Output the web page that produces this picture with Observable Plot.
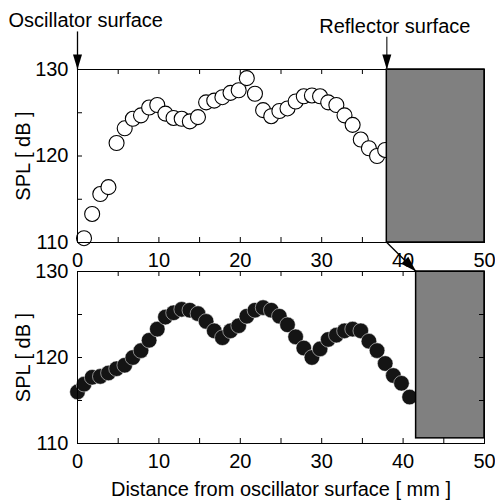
<!DOCTYPE html>
<html><head><meta charset="utf-8">
<script src="https://cdn.jsdelivr.net/npm/d3@7"></script>
<script src="https://cdn.jsdelivr.net/npm/@observablehq/plot@0.6"></script>
<style>
html,body{margin:0;padding:0;background:#fff;}
#chart{position:relative;width:495px;height:500px;overflow:hidden;}
#chart svg{position:absolute;left:0;top:0;}
</style></head><body><div id="chart"></div>
<script>
// ---- data ----
const xDomain = [0, 50];
const yDomain = [110, 130];
const xTicks = [0, 5, 10, 15, 20, 25, 30, 35, 40, 45, 50];
const xTickLabels = [0, 10, 20, 30, 40, 50];
const yTicks = [110, 115, 120, 125, 130];
const yTickLabels = [110, 120, 130];

const topX = [0.8,1.8,2.8,3.8,4.8,5.8,6.8,7.8,8.8,9.8,10.8,11.8,12.8,13.8,14.8,15.8,16.8,17.8,18.8,19.8,20.8,21.8,22.8,23.8,24.8,25.8,26.8,27.8,28.8,29.8,30.8,31.8,32.8,33.8,34.8,35.8,36.8,37.8];
const topSPL = [110.5,113.3,115.6,116.4,121.5,123.2,124.3,124.7,125.6,125.9,124.9,124.4,124.3,124.0,124.5,126.2,126.4,126.8,127.3,127.6,129.0,127.2,125.3,124.6,125.2,125.5,126.3,126.9,127.0,126.9,126.2,125.9,124.7,123.6,121.9,120.9,120.0,120.7];

const bottomX = [0,0.8,1.8,2.8,3.8,4.8,5.8,6.8,7.8,8.8,9.8,10.8,11.8,12.8,13.8,14.8,15.8,16.8,17.8,18.8,19.8,20.8,21.8,22.8,23.8,24.8,25.8,26.8,27.8,28.8,29.8,30.8,31.8,32.8,33.8,34.8,35.8,36.8,37.8,38.8,39.8,40.8];
const bottomSPL = [116.0,116.9,117.7,117.8,118.2,118.7,119.1,120.0,120.8,122.0,123.3,124.7,125.2,125.6,125.5,125.1,124.2,123.1,122.3,123.1,123.7,124.8,125.5,125.8,125.5,124.8,123.8,122.4,121.1,120.0,121.0,122.1,122.6,123.1,123.3,123.1,121.9,120.8,119.3,117.9,117.0,115.4];

// reflector positions [mm] and block extents [dB]
const reflectorTop = [{x1: 38, x2: 50, y1: 110, y2: 130}];
const reflectorBottom = [{x1: 41.6, x2: 50, y1: 110.6, y2: 130}];

// annotation texts
const oscLabel = "Oscillator surface";
const refLabel = "Reflector surface";
const yLabel = "SPL [ dB ]";
const xLabel = "Distance from oscillator surface [ mm ]";
// annotation arrow start levels (dB, above the panel)
const oscArrowStart = 134.4;
const refArrowStart = 133.8;

// ---- layout ----
const W = 495, H = 500;
const ML = 77, MR = 11;
const topM = {top: 69, bottom: 258};
const botM = {top: 271, bottom: 57};
const frameW = W - ML - MR;
const topFrameH = H - topM.top - topM.bottom;
const botFrameH = H - botM.top - botM.bottom;
const FONT = "'Liberation Sans', Arial, Helvetica, sans-serif";
const TICK = 5;

const topData = topX.map((x, i) => ({x, spl: topSPL[i]}));
const bottomData = bottomX.map((x, i) => ({x, spl: bottomSPL[i]}));

// scales mirroring the plots (for the cross-panel arrow)
const xPix = d3.scaleLinear(xDomain, [ML, W - MR]);
const topYPix = d3.scaleLinear(yDomain, [H - topM.bottom, topM.top]);
const botYPix = d3.scaleLinear(yDomain, [H - botM.bottom, botM.top]);
const crossY = topYPix.invert(botYPix(reflectorBottom[0].y2));
const crossArrow = [{x1: reflectorTop[0].x1, y1: reflectorTop[0].y1, x2: reflectorBottom[0].x1, y2: crossY}];

function arrowHead(dx, dy, len, half) {
  const L = Math.hypot(dx, dy), ux = dx / L, uy = dy / L, px = -uy, py = ux;
  return {draw(ctx) {
    ctx.moveTo(0, 0);
    ctx.lineTo(-ux * len + px * half, -uy * len + py * half);
    ctx.lineTo(-ux * len - px * half, -uy * len - py * half);
    ctx.closePath();
  }};
}
const downHead = arrowHead(0, 1, 15, 4.5);
const crossHead = arrowHead(
  xPix(crossArrow[0].x2) - xPix(crossArrow[0].x1),
  topYPix(crossArrow[0].y2) - topYPix(crossArrow[0].y1), 16, 5);

const baseStyle = {fontFamily: FONT, fontSize: "20px", background: "transparent", overflow: "visible", color: "#000"};

const topPlot = Plot.plot({
  width: W, height: H,
  marginLeft: ML, marginRight: MR, marginTop: topM.top, marginBottom: topM.bottom,
  style: baseStyle,
  x: {domain: xDomain, ticks: xTickLabels, tickSize: 0, tickPadding: 10, label: null},
  y: {domain: yDomain, ticks: yTickLabels, tickSize: 0, tickPadding: 9, label: null},
  marks: [
    Plot.ruleX(xTicks, {insetTop: topFrameH - TICK, stroke: "black"}),
    Plot.ruleX(xTicks, {insetBottom: topFrameH - TICK, stroke: "black"}),
    Plot.ruleY(yTicks, {insetRight: frameW - TICK, stroke: "black"}),
    Plot.dot(topData, {x: "x", y: "spl", r: 7.5, fill: "white", stroke: "black", strokeWidth: 1.1}),
    Plot.rect(reflectorTop, {x1: "x1", x2: "x2", y1: "y1", y2: "y2", fill: "#808080", stroke: "black", strokeWidth: 1.5}),
    Plot.frame({stroke: "black"}),
    // oscillator / reflector annotations
    Plot.link([{x: 0}], {x1: "x", x2: "x", y1: () => oscArrowStart, y2: () => yDomain[1], stroke: "black", strokeWidth: 1.3}),
    Plot.dot([{x: 0}], {x: "x", y: () => yDomain[1], symbol: downHead, fill: "black", stroke: "none"}),
    Plot.link(reflectorTop, {x1: "x1", x2: "x1", y1: () => refArrowStart, y2: () => yDomain[1], stroke: "#333", strokeWidth: 1.3}),
    Plot.dot(reflectorTop, {x: "x1", y: () => yDomain[1], symbol: downHead, fill: "black", stroke: "none"}),
    Plot.text([{x: 0}], {x: "x", frameAnchor: "top", text: () => oscLabel, textAnchor: "start", lineAnchor: "middle", dx: -69, dy: -48.5, fill: "black"}),
    Plot.text(reflectorTop, {x: "x1", frameAnchor: "top", text: () => refLabel, textAnchor: "middle", lineAnchor: "middle", dx: 8, dy: -42.5, fill: "black"}),
    // arrow from top reflector to bottom reflector
    Plot.link(crossArrow, {x1: "x1", y1: "y1", x2: "x2", y2: "y2", stroke: "black", strokeWidth: 1.3}),
    Plot.dot(crossArrow, {x: "x2", y: "y2", symbol: crossHead, fill: "black", stroke: "none"}),
    Plot.text([yLabel], {frameAnchor: "left", rotate: -90, textAnchor: "middle", lineAnchor: "middle", dx: -54, fill: "black"})
  ]
});

const bottomPlot = Plot.plot({
  width: W, height: H,
  marginLeft: ML, marginRight: MR, marginTop: botM.top, marginBottom: botM.bottom,
  style: baseStyle,
  x: {domain: xDomain, ticks: xTickLabels, tickSize: 0, tickPadding: 10, label: null},
  y: {domain: yDomain, ticks: yTickLabels, tickSize: 0, tickPadding: 9, label: null},
  marks: [
    Plot.ruleX(xTicks, {insetTop: botFrameH - TICK, stroke: "black"}),
    Plot.ruleX(xTicks, {insetBottom: botFrameH - TICK, stroke: "black"}),
    Plot.ruleY(yTicks, {insetRight: frameW - TICK, stroke: "black"}),
    Plot.dot(bottomData, {x: "x", y: "spl", r: 7.8, fill: "#141414", stroke: "white", strokeWidth: 0.5}),
    Plot.rect(reflectorBottom, {x1: "x1", x2: "x2", y1: "y1", y2: "y2", fill: "#808080", stroke: "black", strokeWidth: 1.5}),
    Plot.ruleY(yTicks, {insetLeft: frameW - TICK, stroke: "black"}),
    Plot.frame({stroke: "black"}),
    Plot.text([yLabel], {frameAnchor: "left", rotate: -90, textAnchor: "middle", lineAnchor: "middle", dx: -54, fill: "black"}),
    Plot.text([xLabel], {frameAnchor: "bottom", textAnchor: "middle", lineAnchor: "middle", dy: 46, fill: "black"})
  ]
});

const chart = document.getElementById("chart");
chart.appendChild(topPlot);
chart.appendChild(bottomPlot);
</script></body></html>
